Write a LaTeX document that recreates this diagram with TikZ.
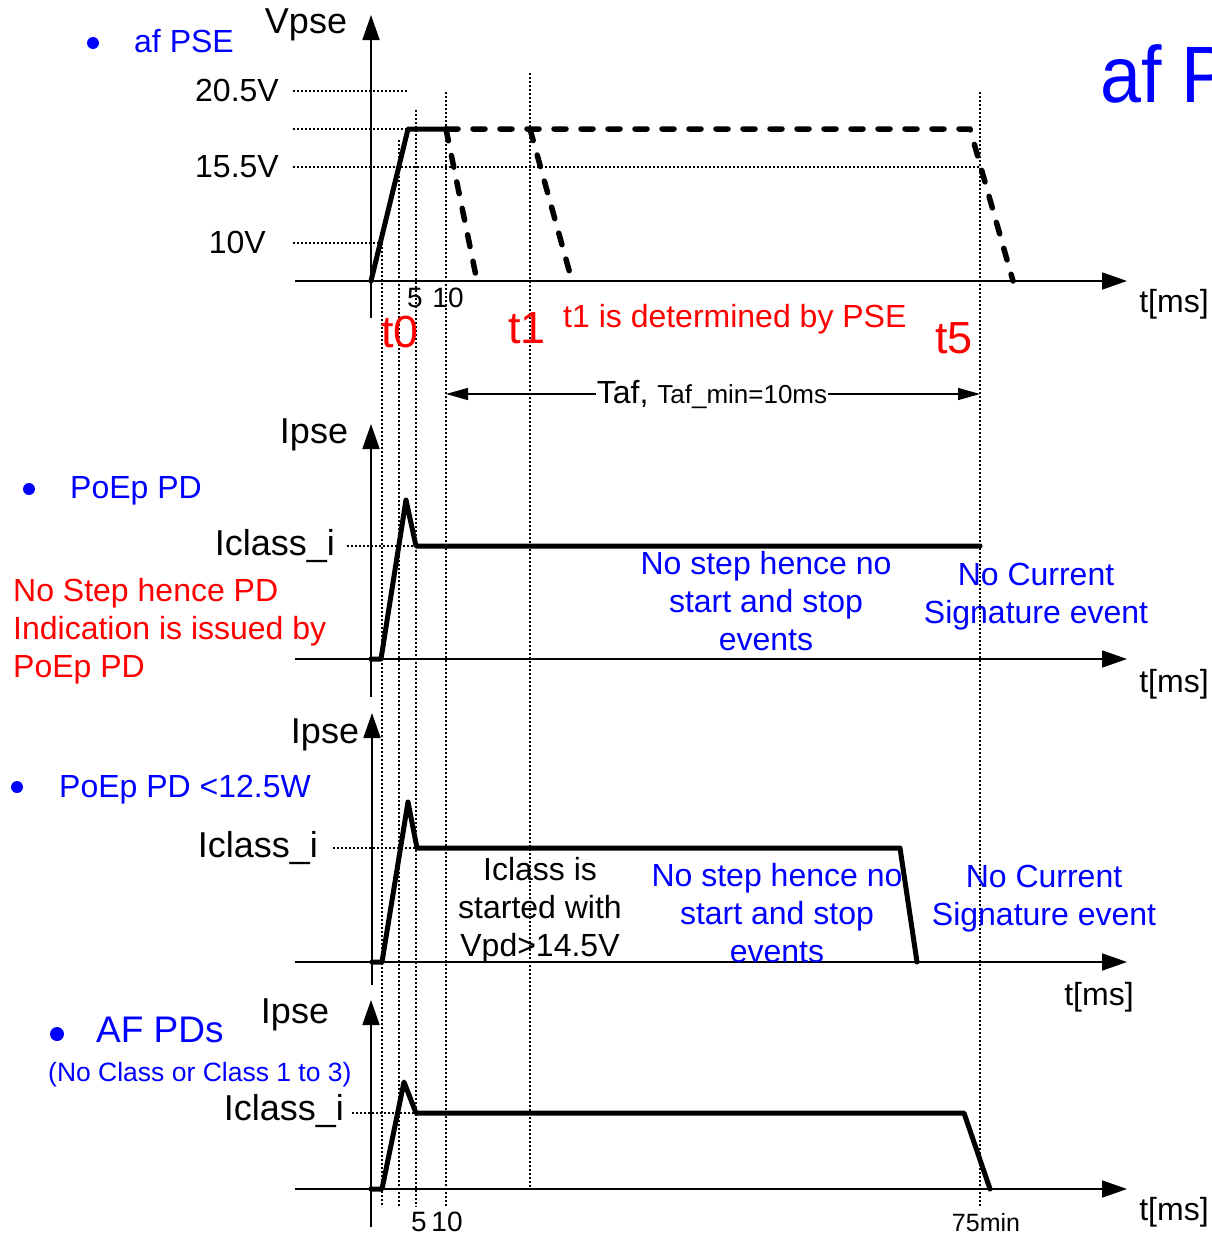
\documentclass[tikz,border=0pt]{standalone}
\usepackage{fontspec}
\setmainfont{Liberation Sans}
\usetikzlibrary{arrows.meta}
\definecolor{myblue}{RGB}{0,0,255}
\definecolor{myred}{RGB}{255,0,0}
\begin{document}
\begin{tikzpicture}[x=1pt,y=-1pt,
  axis/.style={line width=1.8pt,-{Triangle[length=25pt,width=17pt]}},
  dotline/.style={line width=1.2pt,dash pattern=on 2pt off 2pt},
  wave/.style={line width=5pt,line join=round,line cap=round},
  dwave/.style={line width=5.5pt,line join=round,line cap=round,dash pattern=on 12pt off 15pt},
  lbl/.style={inner sep=0pt,font=\fontsize{32}{38}\selectfont},
  biglbl/.style={inner sep=0pt,font=\fontsize{36}{40}\selectfont},
  small/.style={inner sep=0pt,font=\fontsize{28}{30}\selectfont},
  bullet/.style={fill=myblue,draw=none,circle,inner sep=0pt,minimum size=12pt},
  tlbl/.style={inner sep=0pt,anchor=mid,text=myred,font=\fontsize{45}{45}\selectfont},
]
\useasboundingbox (0,0) rectangle (1212,1237);

% ---------- vertical dotted guide lines ----------
\coordinate (v1t) at (382,243);  \coordinate (v1b) at (382,1207);
\coordinate (v2t) at (399,140);  \coordinate (v2b) at (399,1207);
\coordinate (v3t) at (416,110);  \coordinate (v3b) at (416,1207);
\coordinate (v4t) at (446,92);   \coordinate (v4b) at (446,1207);
\coordinate (v5t) at (530,73);   \coordinate (v5b) at (530,1189);
\coordinate (v6t) at (980,92);   \coordinate (v6b) at (980,1207);
\foreach \i in {1,...,6} \draw[dotline] (v\i t) -- (v\i b);

% ---------- panel 1 : Vpse ----------
\coordinate (a1o) at (295,281); \coordinate (a1e) at (1127,281);
\coordinate (a1b) at (371,318); \coordinate (a1t) at (371,15);
\draw[axis] (a1o) -- (a1e);
\draw[axis] (a1b) -- (a1t);
\node[biglbl,anchor=mid] (vpse) at (306,31) {Vpse};
\node[bullet] (b1) at (93,43) {};
\node[lbl,anchor=mid west,text=myblue] (afpse) at (134,50) {af PSE};
\node[inner sep=0pt,anchor=base west,text=myblue,font=\fontsize{80}{80}\selectfont,xscale=0.92] (afbig) at (1100,102) {af P};

\node[lbl,anchor=mid east] (l205) at (279,99) {20.5V};
\node[lbl,anchor=mid east] (l155) at (279,175) {15.5V};
\node[lbl,anchor=mid east] (l10) at (266,251) {10V};
\coordinate (h1a) at (293,91);  \coordinate (h1b) at (408,91);
\coordinate (h2a) at (293,129); \coordinate (h2b) at (408,129);
\coordinate (h3a) at (293,167); \coordinate (h3b) at (980,167);
\coordinate (h4a) at (293,243); \coordinate (h4b) at (382,243);
\draw[dotline] (h1a) -- (h1b);
\draw[dotline] (h2a) -- (h2b);
\draw[dotline] (h3a) -- (h3b);
\draw[dotline] (h4a) -- (h4b);

\coordinate (p0) at (371,281); \coordinate (p1) at (408,129); \coordinate (p2) at (446,129);
\coordinate (p3) at (970,129); \coordinate (p4) at (1013,281);
\coordinate (f1) at (477,281); \coordinate (s2) at (530,129); \coordinate (f2) at (572,281);
\draw[wave] (p0) -- (p1) -- (p2);
\draw[dwave] (p2) -- (p3) -- (p4);
\draw[dwave] (p2) -- (f1);
\draw[dwave] (s2) -- (f2);

\node[small,anchor=mid] (n5a) at (415,305) {5};
\node[small,anchor=mid] (n10a) at (448,305) {10};
\node[tlbl] (t0) at (400,345) {t0};
\node[tlbl] (t1) at (527,341) {t1};
\node[tlbl] (t5) at (954,351) {t5};
\node[lbl,anchor=mid west,text=myred] (t1txt) at (563,325) {t1 is determined by PSE};
\node[lbl,anchor=mid] (tms1) at (1174,310) {t[ms]};

% Taf arrow
\coordinate (tafl) at (446,394); \coordinate (tafr) at (980,394);
\draw[line width=1.3pt,{Triangle[length=22pt,width=12pt]}-{Triangle[length=22pt,width=12pt]}] (tafl) -- (tafr);
\node[fill=white,inner sep=1pt,anchor=mid] (taf) at (712,401) {\fontsize{32}{36}\selectfont Taf, \fontsize{26}{30}\selectfont Taf\_min=10ms};

% ---------- panel 2 : PoEp PD ----------
\coordinate (a2o) at (295,659); \coordinate (a2e) at (1127,659);
\coordinate (a2b) at (371,697); \coordinate (a2t) at (371,424);
\draw[axis] (a2o) -- (a2e);
\draw[axis] (a2b) -- (a2t);
\node[biglbl,anchor=mid] (ipse2) at (314,441) {Ipse};
\node[bullet] (b2) at (29,489) {};
\node[lbl,anchor=mid west,text=myblue] (poep) at (70,496) {PoEp PD};
\node[biglbl,anchor=mid east] (ic2) at (335,553) {Iclass\_i};
\coordinate (ic2a) at (347,546); \coordinate (ic2b) at (416,546);
\draw[dotline] (ic2a) -- (ic2b);
\coordinate (q0) at (371,659); \coordinate (q1) at (381,659); \coordinate (q2) at (406,500);
\coordinate (q3) at (416,546); \coordinate (q4) at (980,546);
\draw[wave] (q0) -- (q1) -- (q2) -- (q3) -- (q4);
\node[lbl,anchor=west,text=myred,align=left] (redtxt) at (13,631) {No Step hence PD\\Indication is issued by\\PoEp PD};
\node[lbl,text=myblue,align=center] (nostep2) at (766,601) {No step hence no\\start and stop\\events};
\node[lbl,text=myblue,align=center] (nocur2) at (1036,597) {No Current\\Signature event};
\node[lbl,anchor=mid] (tms2) at (1174,690) {t[ms]};

% ---------- panel 3 : PoEp PD <12.5W ----------
\coordinate (a3o) at (295,962); \coordinate (a3e) at (1127,962);
\coordinate (a3b) at (372,985); \coordinate (a3t) at (372,713);
\draw[axis] (a3o) -- (a3e);
\draw[axis] (a3b) -- (a3t);
\node[biglbl,anchor=mid] (ipse3) at (325,741) {Ipse};
\node[bullet] (b3) at (17,787) {};
\node[lbl,anchor=mid west,text=myblue] (poep3) at (59,795) {PoEp PD <12.5W};
\node[biglbl,anchor=mid east] (ic3) at (318,855) {Iclass\_i};
\coordinate (ic3a) at (333,848); \coordinate (ic3b) at (417,848);
\draw[dotline] (ic3a) -- (ic3b);
\coordinate (r0) at (372,962); \coordinate (r1) at (382,962); \coordinate (r2) at (408,802);
\coordinate (r3) at (417,848); \coordinate (r4) at (900,848); \coordinate (r5) at (917,962);
\draw[wave] (r0) -- (r1) -- (r2) -- (r3) -- (r4) -- (r5);
\node[lbl,align=center] (iclstart) at (540,910) {Iclass is\\started with\\Vpd>14.5V};
\node[lbl,text=myblue,align=center] (nostep3) at (777,913) {No step hence no\\start and stop\\events};
\node[lbl,text=myblue,align=center] (nocur3) at (1044,899) {No Current\\Signature event};
\node[lbl,anchor=mid] (tms3) at (1099,1003) {t[ms]};

% ---------- panel 4 : AF PDs ----------
\coordinate (a4o) at (295,1189); \coordinate (a4e) at (1127,1189);
\coordinate (a4b) at (371,1227); \coordinate (a4t) at (371,1000);
\draw[axis] (a4o) -- (a4e);
\draw[axis] (a4b) -- (a4t);
\node[biglbl,anchor=mid] (ipse4) at (295,1021) {Ipse};
\node[bullet,minimum size=14pt] (b4) at (57,1034) {};
\node[inner sep=0pt,anchor=mid west,text=myblue,font=\fontsize{37}{40}\selectfont] (afpd) at (96,1040) {AF PDs};
\node[inner sep=0pt,anchor=mid west,text=myblue,font=\fontsize{26.5}{30}\selectfont] (nocls) at (48,1079) {(No Class or Class 1 to 3)};
\node[biglbl,anchor=mid east] (ic4) at (344,1118) {Iclass\_i};
\coordinate (ic4a) at (352,1113); \coordinate (ic4b) at (416,1113);
\draw[dotline] (ic4a) -- (ic4b);
\coordinate (u0) at (371,1189); \coordinate (u1) at (382,1189); \coordinate (u2) at (404,1082);
\coordinate (u3) at (416,1113); \coordinate (u4) at (964,1113); \coordinate (u5) at (990,1189);
\draw[wave] (u0) -- (u1) -- (u2) -- (u3) -- (u4) -- (u5);
\node[small,anchor=mid] (n5b) at (419,1229) {5};
\node[small,anchor=mid] (n10b) at (447,1229) {10};
\node[inner sep=0pt,anchor=mid,font=\fontsize{25}{30}\selectfont] (min75) at (986,1229) {75min};
\node[lbl,anchor=mid] (tms4) at (1174,1218) {t[ms]};
\end{tikzpicture}
\end{document}
